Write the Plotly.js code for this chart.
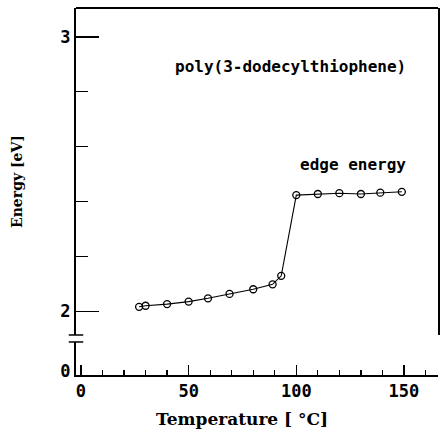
<!DOCTYPE html>
<html>
<head>
<meta charset="utf-8">
<script src="https://cdn.plot.ly/plotly-3.0.1.min.js"></script>
<style>html,body{margin:0;padding:0;background:#fff;}#chart{width:440px;height:434px;}</style>
</head>
<body>
<div id="chart"></div>
<script>
// Data
const temperature = [27, 30, 40, 50, 59, 69, 80, 89, 93, 100, 110, 120, 130, 139, 149];
const edgeEnergy = [2.017, 2.021, 2.027, 2.036, 2.048, 2.064, 2.081, 2.099, 2.130, 2.424, 2.428, 2.431, 2.428, 2.433, 2.436];
const xTickVals = [0, 50, 100, 150];
const xTickText = ['0', '50', '100', '150'];
const yTickVals = [2, 3];
const yTickText = ['2', '3'];
const yMinorVals = [2.2, 2.4, 2.6, 2.8];
const xMinorVals = [10, 20, 30, 40, 60, 70, 80, 90, 110, 120, 130, 140, 160];
const lowTickVals = [0];
const lowTickText = ['0'];
const seriesLabel = 'poly(3-dodecylthiophene)';
const curveLabel = 'edge energy';

const monoBold = {family: 'DejaVu Sans Mono', size: 17, color: '#000', weight: 'bold'};
const serifBold = {family: 'DejaVu Serif', size: 17, color: '#000', weight: 'bold'};

const trace = {
  x: temperature,
  y: edgeEnergy,
  xaxis: 'x',
  yaxis: 'y2',
  mode: 'lines+markers',
  line: {color: '#000', width: 1.1},
  marker: {symbol: 'circle-open', size: 7, color: '#000', line: {width: 1.3, color: '#000'}},
  showlegend: false,
  hoverinfo: 'x+y'
};
// empty trace so that the lower (broken-off) axis segment exists
const lowAnchor = {x: [], y: [], xaxis: 'x', yaxis: 'y', mode: 'markers', showlegend: false, hoverinfo: 'skip'};

const layout = {
  width: 440, height: 434,
  margin: {l: 76, r: 2, t: 8, b: 59},
  paper_bgcolor: '#fff', plot_bgcolor: '#fff',
  showlegend: false,
  xaxis: {
    range: [-2.3, 165.8],
    anchor: 'y',
    showgrid: false, zeroline: false,
    showline: true, linecolor: '#000', linewidth: 2,
    tickmode: 'array', tickvals: xTickVals, ticktext: xTickText,
    ticks: 'inside', ticklen: 10, tickwidth: 1.5, tickcolor: '#000',
    minor: {tickmode: 'array', tickvals: xMinorVals, ticks: 'inside', ticklen: 5, tickwidth: 1.3, tickcolor: '#000', showgrid: false},
    tickfont: monoBold
  },
  yaxis: {
    domain: [0, 0.09],
    range: [-0.15, 1],
    anchor: 'x',
    showgrid: false, zeroline: false,
    showline: true, linecolor: '#000', linewidth: 2,
    tickmode: 'array', tickvals: lowTickVals, ticktext: lowTickText,
    ticks: '', tickfont: monoBold
  },
  yaxis2: {
    domain: [0.109, 1],
    range: [1.9144, 3.1056],
    anchor: 'x',
    showgrid: false, zeroline: false,
    showline: true, linecolor: '#000', linewidth: 2,
    mirror: true,
    tickmode: 'array', tickvals: yTickVals, ticktext: yTickText,
    ticks: 'inside', ticklen: 23, tickwidth: 1.5, tickcolor: '#000',
    minor: {tickmode: 'array', tickvals: yMinorVals, ticks: 'inside', ticklen: 12, tickwidth: 1.2, tickcolor: '#000', showgrid: false},
    tickfont: monoBold
  },
  shapes: [
    {type: 'line', xref: 'paper', yref: 'paper', x0: 0, x1: 1, y0: 1, y1: 1, line: {color: '#000', width: 2}},
    {type: 'line', xref: 'paper', yref: 'paper', x0: -0.02, x1: 0.02, y0: 0.109, y1: 0.109, line: {color: '#000', width: 1.5}},
    {type: 'line', xref: 'paper', yref: 'paper', x0: -0.02, x1: 0.02, y0: 0.09, y1: 0.09, line: {color: '#000', width: 1.5}}
  ],
  annotations: [
    {text: seriesLabel, xref: 'x', yref: 'y2', x: 42.7, y: 2.891, xanchor: 'left', yanchor: 'middle', showarrow: false,
     font: {family: 'DejaVu Sans Mono', size: 16, color: '#000', weight: 'bold'}},
    {text: curveLabel, xref: 'x', yref: 'y2', x: 100.8, y: 2.537, xanchor: 'left', yanchor: 'middle', showarrow: false,
     font: {family: 'DejaVu Sans Mono', size: 16, color: '#000', weight: 'bold'}},
    {text: 'Temperature [ °C]', xref: 'paper', yref: 'paper', x: 0.4586, y: 0, yshift: -44, xanchor: 'center', yanchor: 'middle', showarrow: false,
     font: serifBold},
    {text: 'Energy [eV]', xref: 'paper', yref: 'paper', x: -0.163, y: 0.5286, textangle: -90, xanchor: 'center', yanchor: 'middle', showarrow: false,
     font: {family: 'DejaVu Serif', size: 14, color: '#000', weight: 'bold'}}
  ]
};

Plotly.newPlot('chart', [trace, lowAnchor], layout, {displayModeBar: false, staticPlot: true});
</script>
</body>
</html>
